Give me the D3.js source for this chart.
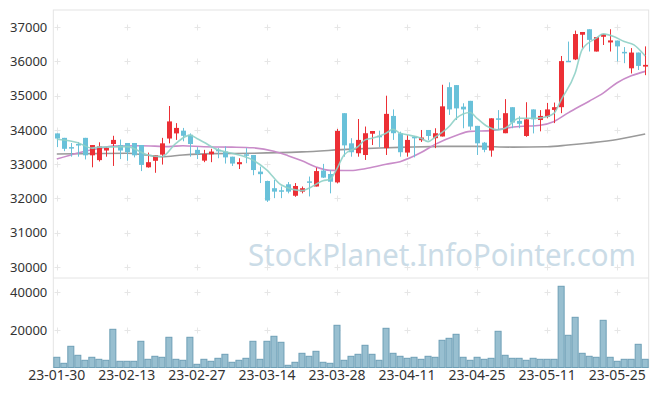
<!DOCTYPE html>
<html>
<head>
<meta charset="utf-8">
<script src="https://cdn.jsdelivr.net/npm/d3@7"></script>
<style>
  body { margin: 0; background: #fff; }
  svg { display: block; font-family: "Noto Sans", sans-serif; }
</style>
</head>
<body>
<svg id="chart" width="657" height="396"></svg>
<script>
// trading days, 23-01-30 .. 23-06-01
const dates = [
  '23-01-30','23-01-31',
  '23-02-01','23-02-02','23-02-03','23-02-06','23-02-07','23-02-08','23-02-09','23-02-10',
  '23-02-13','23-02-14','23-02-15','23-02-16','23-02-17','23-02-20','23-02-21','23-02-22',
  '23-02-23','23-02-24','23-02-27','23-02-28',
  '23-03-02','23-03-03','23-03-06','23-03-07','23-03-08','23-03-09','23-03-10','23-03-13',
  '23-03-14','23-03-15','23-03-16','23-03-17','23-03-20','23-03-21','23-03-22','23-03-23',
  '23-03-24','23-03-27','23-03-28','23-03-29','23-03-30','23-03-31',
  '23-04-03','23-04-04','23-04-05','23-04-06','23-04-07','23-04-10','23-04-11','23-04-12',
  '23-04-13','23-04-14','23-04-17','23-04-18','23-04-19','23-04-20','23-04-21','23-04-24',
  '23-04-25','23-04-26','23-04-27','23-04-28',
  '23-05-02','23-05-03','23-05-04','23-05-08','23-05-09','23-05-10','23-05-11','23-05-12',
  '23-05-15','23-05-16','23-05-17','23-05-18','23-05-19','23-05-22','23-05-23','23-05-24',
  '23-05-25','23-05-26','23-05-30','23-05-31','23-06-01'
];

const open = [
  33900,33770,33500,33590,33770,33260,33120,33400,33590,33560,
  33620,33620,33560,32910,33100,33280,33750,33900,33980,33860,
  33420,33105,33290,33420,33370,33220,33000,33290,33270,32785,
  32510,32300,32240,32415,32080,32200,32500,32350,32815,32715,
  32470,34490,33610,33320,33270,33890,33830,33470,34410,33905,
  33340,33800,33700,34000,33760,33810,35250,35310,34680,34850,
  34120,33630,33400,34340,33905,34665,34265,33825,34600,34290,
  34385,34585,34665,36020,36060,36780,36940,36290,36720,36555,
  36610,36280,35800,36260,35850
];
const high = [
  33900,33770,33620,33650,33770,33560,33640,33500,33830,33720,
  33620,33620,33560,33340,33260,33770,34700,34200,34060,33900,
  33500,33420,33450,33470,33520,33220,33175,33470,33270,32930,
  32520,32540,32350,32480,32450,32350,32640,32900,33010,32830,
  34030,34490,33760,34320,34100,33970,33980,35000,34600,33950,
  33850,33825,34000,34000,34050,35320,35390,35310,34780,34850,
  34120,33650,34340,34580,34900,34665,34400,34810,34600,34580,
  34790,34800,36160,36580,36900,36860,36940,36710,36800,36940,
  36610,36420,36390,36260,36440
];
const low = [
  33500,33380,33220,33220,33140,32910,33080,33220,32950,33150,
  33100,33200,32800,32900,32750,32990,33610,33710,33670,33220,
  33150,33060,33060,33175,33020,32950,32860,33030,32680,32450,
  31900,32010,32010,32150,32050,32150,32060,32350,32600,32150,
  32440,33220,33220,33220,33125,33560,33500,33270,33710,33220,
  33220,33200,33650,33700,33470,33810,34440,34290,34050,34000,
  33270,33350,33220,34000,33905,34050,34050,33800,33900,33960,
  34340,34200,34490,35990,36040,36400,36290,36290,36480,36290,
  36000,35950,35650,35750,35600
];
const close = [
  33750,33450,33460,33550,33260,33560,33520,33480,33710,33400,
  33350,33260,32980,33060,33260,33610,34250,34060,33830,33590,
  33300,33300,33370,33380,33200,33020,33060,33250,32830,32710,
  31940,32200,32220,32200,32365,32300,32480,32800,32610,32490,
  33970,33550,33350,33710,33905,33970,33800,34470,33905,33350,
  33710,33770,33780,33825,33905,34690,34600,34630,34600,34100,
  33610,33420,34340,34320,34490,34215,34180,34310,34310,34410,
  34600,34665,36010,35990,36800,36860,36630,36710,36800,36615,
  36440,36240,36260,35870,35900
];
const volume = [
  5430,2230,11280,6490,3830,5430,4360,3830,20320,3300,
  3300,3300,13940,4360,5960,5430,16070,4360,3830,16070,
  1700,4360,3300,4890,7020,2770,3830,4890,13940,4360,
  13940,16600,13410,1170,2770,7550,5960,8620,2770,2230,
  22450,3830,5960,7020,11810,7020,3830,20850,7550,5960,
  4890,5430,4360,5960,5430,14470,15530,17660,5430,3830,
  5430,4360,4890,19260,6490,4890,4890,3830,4890,4360,
  4360,4360,43200,17130,26700,7550,5960,5430,25100,5430,
  3300,4360,4360,12340,4360
];

// moving averages: [day index, value]
const ma5 = [
  [0,33730],[3,33630],[5,33470],[6,33500],[10,33515],[13,33270],[15,33220],[17,33610],
  [19,33850],[20,33750],[21,33640],[23,33420],[25,33320],[28,33120],[30,32830],[32,32400],
  [35,32230],[36,32300],[38,32520],[39,32560],[40,32870],[41,33270],[43,33515],[44,33710],
  [45,33760],[47,33905],[48,34020],[49,33905],[50,33860],[52,33760],[53,33660],[54,33790],
  [56,34100],[57,34340],[59,34510],[60,34340],[61.5,34100],[63,34000],[64,34050],[66,34340],
  [68.6,34340],[70,34390],[71,34490],[72,34880],[74,35660],[75,36350],[77,36680],[78,36805],
  [79.5,36730],[81,36580],[82.4,36485],[84,36160]
];
const ma20 = [
  [0,33150],[3,33330],[6,33460],[8,33530],[12,33540],[16,33515],[18,33540],[21,33510],
  [25,33500],[28,33480],[31,33380],[33,33250],[35,33100],[37,32920],[39,32820],[42,32815],
  [44,32870],[47,33000],[49,33075],[52,33340],[54,33580],[57,33840],[59,33960],[62,33980],
  [64,34050],[66,34100],[69,34140],[71,34250],[73,34500],[76,34840],[78,35075],[80,35380],
  [82,35580],[84,35710]
];
const ma60 = [
  [0,33300],[5,33310],[10,33320],[13,33260],[15,33220],[18,33270],[22,33310],[28,33320],
  [35,33360],[42,33440],[50,33500],[55,33520],[60,33520],[65,33500],[70,33510],[73,33560],
  [76,33620],[80,33720],[84,33880]
];

const priceTicks = [30000, 31000, 32000, 33000, 34000, 35000, 36000, 37000];
const volumeTicks = [20000, 40000];

const svg = d3.select('#chart');
const plotLeft = 53.3, plotRight = 648.7, plotTop = 10, plotSplit = 278, plotBottom = 367.5;

const x = d3.scaleBand().domain(dates).range([plotLeft, plotRight]).padding(0);
const step = x.step();
const cx = i => x(dates[0]) + step * (i + 0.5);

const y = d3.scaleLinear().domain([30000, 37000]).range([267, 27.2]);
const yv = d3.scaleLinear().domain([0, 40000]).range([plotBottom, 292.3]);

const tickDates = dates.filter((d, i) => i % 10 === 0);

// frame
const frame = svg.append('g').attr('stroke', '#e4e4e4').attr('fill', 'none');
frame.append('rect').attr('x', plotLeft).attr('y', plotTop)
  .attr('width', plotRight - plotLeft).attr('height', plotBottom - plotTop);
frame.append('line').attr('x1', plotLeft).attr('x2', plotRight)
  .attr('y1', plotSplit).attr('y2', plotSplit);

// "+" grid marks
const marks = svg.append('g').attr('stroke', '#e6e6e6').attr('stroke-width', 1);
const plus = (px, py) => {
  marks.append('line').attr('x1', px - 3).attr('x2', px + 3).attr('y1', py).attr('y2', py);
  marks.append('line').attr('x1', px).attr('x2', px).attr('y1', py - 3).attr('y2', py + 3);
};
tickDates.forEach(d => {
  const px = Math.round(x(d) + step / 2) + 0.5;
  priceTicks.forEach(t => plus(px, Math.round(y(t)) + 0.5));
  volumeTicks.forEach(t => plus(px, Math.round(yv(t)) + 0.5));
});

// watermark
svg.append('text')
  .attr('x', 248).attr('y', 266)
  .attr('textLength', 388).attr('lengthAdjust', 'spacingAndGlyphs')
  .attr('font-size', 31).attr('fill', '#cbdce7')
  .text('StockPlanet.InfoPointer.com');

// volume bars
svg.append('g').selectAll('rect')
  .data(volume)
  .enter().append('rect')
  .attr('x', (d, i) => x(dates[i]) + 0.5)
  .attr('y', d => yv(d))
  .attr('width', step - 1)
  .attr('height', d => plotBottom - yv(d))
  .attr('fill', '#98bfd0')
  .attr('stroke', '#6e9fb6')
  .attr('stroke-width', 1);

// moving averages
const line = d3.line()
  .x(d => cx(d[0]))
  .y(d => y(d[1]))
  .curve(d3.curveMonotoneX);

svg.append('path').datum(ma60).attr('d', line)
  .attr('fill', 'none').attr('stroke', '#9a9a9a').attr('stroke-width', 1.6);
svg.append('path').datum(ma20).attr('d', line)
  .attr('fill', 'none').attr('stroke', '#c98cc9').attr('stroke-width', 1.6);

// candles
const red = '#ec2f35', blue = '#69c1d9';
const candles = svg.append('g').selectAll('g')
  .data(dates)
  .enter().append('g')
  .attr('fill', (d, i) => close[i] >= open[i] ? red : blue)
  .attr('stroke', (d, i) => close[i] >= open[i] ? red : blue);

candles.append('line')
  .attr('x1', (d, i) => Math.round(cx(i)) + 0.5)
  .attr('x2', (d, i) => Math.round(cx(i)) + 0.5)
  .attr('y1', (d, i) => y(high[i]))
  .attr('y2', (d, i) => y(low[i]))
  .attr('stroke-width', 1);

candles.append('rect')
  .attr('stroke', 'none')
  .attr('x', (d, i) => Math.round(cx(i)) - 2)
  .attr('y', (d, i) => y(Math.max(open[i], close[i])))
  .attr('width', 5)
  .attr('height', (d, i) => Math.max(1.5, Math.abs(y(open[i]) - y(close[i]))));

svg.append('path').datum(ma5).attr('d', line)
  .attr('fill', 'none').attr('stroke', '#8fd0c6').attr('stroke-width', 1.6)
  .attr('stroke-opacity', 0.9);

// axes
const axisText = size => g => {
  g.select('.domain').remove();
  g.selectAll('.tick line').remove();
  g.selectAll('text').attr('fill', '#333').attr('font-size', size)
    .attr('font-family', '"Noto Sans", sans-serif');
};

svg.append('g')
  .attr('transform', `translate(${plotLeft},0)`)
  .call(d3.axisLeft(y).tickValues(priceTicks).tickSize(0).tickPadding(6).tickFormat(d3.format('d')))
  .call(axisText(13));

svg.append('g')
  .attr('transform', `translate(${plotLeft},0)`)
  .call(d3.axisLeft(yv).tickValues(volumeTicks).tickSize(0).tickPadding(6).tickFormat(d3.format('d')))
  .call(axisText(13));

svg.append('g')
  .attr('transform', `translate(0,${plotBottom})`)
  .call(d3.axisBottom(x).tickValues(tickDates).tickSize(0).tickPadding(3))
  .call(axisText(14));
</script>
</body>
</html>
